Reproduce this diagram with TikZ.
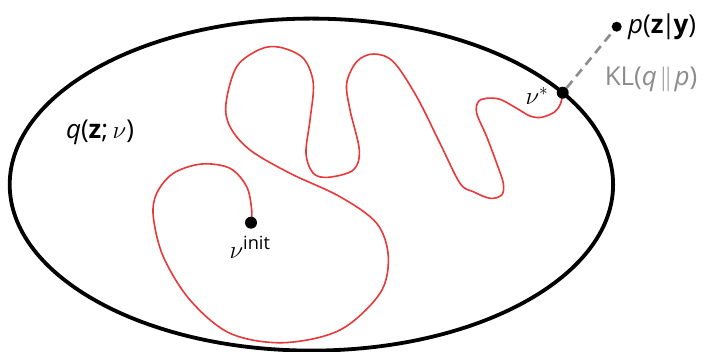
\documentclass[tikz,border=0pt]{standalone}
\usepackage{amsmath}
\usepackage{fontspec}
\setmainfont{Open Sans}
\setsansfont{Open Sans}
\usetikzlibrary{shapes.geometric}
\definecolor{walk}{RGB}{232,56,56}
\definecolor{klgray}{RGB}{140,140,140}
\begin{document}
\begin{tikzpicture}[x=1pt,y=-1pt,
  dot/.style={circle,fill=black,inner sep=0pt,minimum size=#1},
  lbl/.style={inner sep=1pt,font=\fontsize{26}{31}\selectfont},
  walkline/.style={walk,line width=1.6pt,line join=round},
  kl/.style={klgray,line width=2.6pt,dash pattern=on 9pt off 6pt}]
\useasboundingbox (0,0) rectangle (706,352);
\node[draw=black,line width=3.8pt,ellipse,inner sep=0pt,minimum width=603.4pt,minimum height=332pt] (q) at (311.4,184.6) {};
\coordinate (start) at (251,222.7);
\coordinate (finish) at (562.7,92.7);
\draw[walkline] plot[smooth,tension=0.55] coordinates {
 (start) (251.7,210) (246.7,186.7) (230,168.3) (201.7,164) (173.3,173.3)
 (156.7,193.3) (153.3,216.7) (163.3,256.7) (190,300) (230,333.3)
 (283.3,342.7) (340,330) (380,293.3) (388.3,256.7) (376.7,223.3)
 (340,196.7) (290,173.3) (250,150) (230,126.7) (226,103.3)
 (236.7,66.7) (260,49.3) (280,47.3) (303.3,58.3) (313.3,83.3)
 (310,120) (306,153.3) (313.3,173.3) (328.3,177.3) (353.3,170)
 (359.3,150) (350,110) (346.7,83.3) (356.7,61.7) (373.3,54)
 (393.3,61.7) (416.7,96.7) (440,143.3) (460,183.3) (473.3,191.7)
 (490,198.3) (501.7,195) (503.3,183.3) (496.7,163.3) (486.7,136.7)
 (476.7,113.3) (478.3,101.7) (486.7,98.3) (500,99.3) (516.7,108.3)
 (530,116) (541.7,117.3) (555,111.7) (560.7,103.3) (finish)};
\node[dot=12pt] (vinit) at (start) {};
\node[dot=12pt] (vstar) at (finish) {};
\node[dot=10pt] (pdot) at (616.7,26.7) {};
\draw[kl] (vstar) -- (pdot);
\node[lbl,anchor=west,xshift=5pt] (plbl) at (pdot.east) {\textit{p}(\textbf{z}\kern-0.08em|\kern-0.08em\textbf{y})};
\node[lbl,text=klgray] (kllbl) at (651,79) {KL(\textit{q}\kern0.1em$\Vert$\kern0.1em\textit{p})};
\node[lbl] (vstarlbl) at (537,96) {$\nu^*$};
\node[lbl] (vinitlbl) at (250,247) {$\nu^{\text{init}}$};
\node[lbl] (qlbl) at (100,132) {\textit{q}(\textbf{z};\,$\nu$)};
\end{tikzpicture}
\end{document}
